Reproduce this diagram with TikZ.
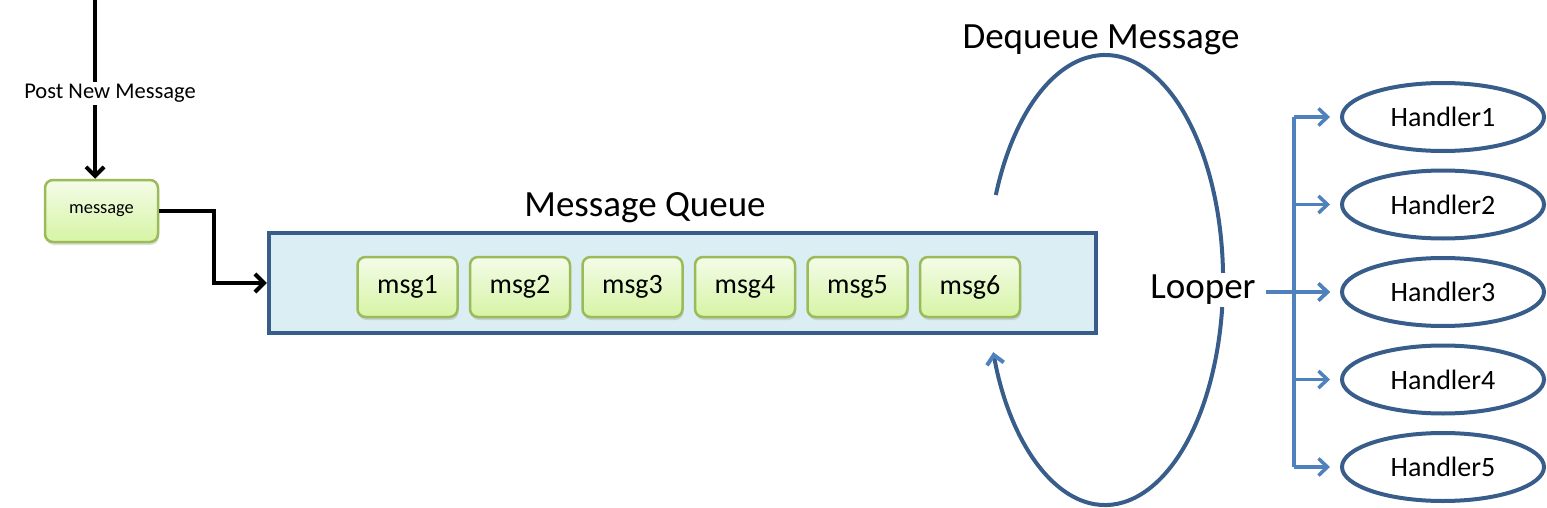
\documentclass[tikz,border=0pt]{standalone}
\usepackage{fontspec}
\setmainfont{Carlito}
\usepackage{tikz}
\usetikzlibrary{arrows.meta, positioning, shapes.geometric, shadows}
\definecolor{queueblue}{RGB}{56, 93, 138}
\definecolor{queuefill}{RGB}{219, 238, 244}
\definecolor{linkblue}{RGB}{79, 129, 189}
\definecolor{msggreen}{RGB}{155, 187, 89}
\definecolor{msgtop}{RGB}{244, 252, 232}
\definecolor{msgbottom}{RGB}{214, 244, 164}
\tikzstyle{arrow} = [-{Straight Barb[length=9pt, width=18pt]}, line width=4pt]
\tikzstyle{bluearrow} = [-{Straight Barb[length=9pt, width=17pt]}, line width=3.5pt, draw=linkblue]
\tikzstyle{msgbox} = [rectangle, rounded corners=8pt, minimum width=100pt, minimum height=60pt,
                      draw=msggreen, line width=2.5pt, top color=msgtop, bottom color=msgbottom,
                      drop shadow={opacity=0.25, shadow xshift=1pt, shadow yshift=-3pt},
                      font=\fontsize{28}{32}\selectfont]
\tikzstyle{handler} = [ellipse, minimum width=202pt, minimum height=68pt, draw=queueblue,
                       line width=4pt, font=\fontsize{28}{32}\selectfont]
\tikzstyle{title} = [font=\fontsize{37}{42}\selectfont]

\begin{document}
\begin{tikzpicture}[x=1pt, y=-1pt, node distance=10pt]
    \useasboundingbox (0,0) rectangle (1547,508);

    % Incoming message
    \coordinate (post) at (95,0);
    \node[msgbox, minimum width=113pt, minimum height=62pt, font=\fontsize{18.4}{22}\selectfont] (message) at (101.5,211) {message};
    \draw[arrow] (post) -- node[fill=white, inner sep=2pt, xshift=15pt, yshift=-4pt, font=\fontsize{22.5}{26}\selectfont] {Post New Message} (post |- message.north);

    % Queue
    \node[rectangle, minimum width=827pt, minimum height=100pt, draw=queueblue, line width=4.5pt, fill=queuefill] (queue) at (682.5,283) {};
    \node[title] (queuetitle) at (645,208) {Message Queue};
    \node[msgbox] (msg1) at (407.5,287) {msg1};
    \foreach \i [remember=\i as \j (initially 1)] in {2,...,6}
        \node[msgbox, right=of msg\j] (msg\i) {msg\i};
    \draw[arrow] (message.east) -- ++(55,0) |- (queue.west);

    % Looper
    \node[title] (dequeue) at (1101,40) {Dequeue Message};
    \coordinate (loopstart) at (995.8,195);
    \draw[queueblue, line width=4pt, -{Straight Barb[length=9pt, width=17pt, color=linkblue]}]
        (loopstart) arc[start angle=202.2, end angle=521.3, x radius=118, y radius=225];
    \node[title, fill=white, inner sep=2pt] (looper) at (1203,290) {Looper};

    % Handlers
    \coordinate (trunk) at (1294,0);
    \foreach \i in {1,...,5} {
        \node[handler] (h\i) at (1443,{117+87.5*(\i-1)}) {Handler\i};
        \draw[bluearrow, shorten >=10pt] (trunk |- h\i.west) -- (h\i.west);
    }
    \draw[linkblue, line width=3.5pt] (trunk |- h1.west) -- (trunk |- h5.west);
    \draw[bluearrow, shorten <=8pt, shorten >=10pt] (looper.east |- h3.west) -- (h3.west);
\end{tikzpicture}
\end{document}
